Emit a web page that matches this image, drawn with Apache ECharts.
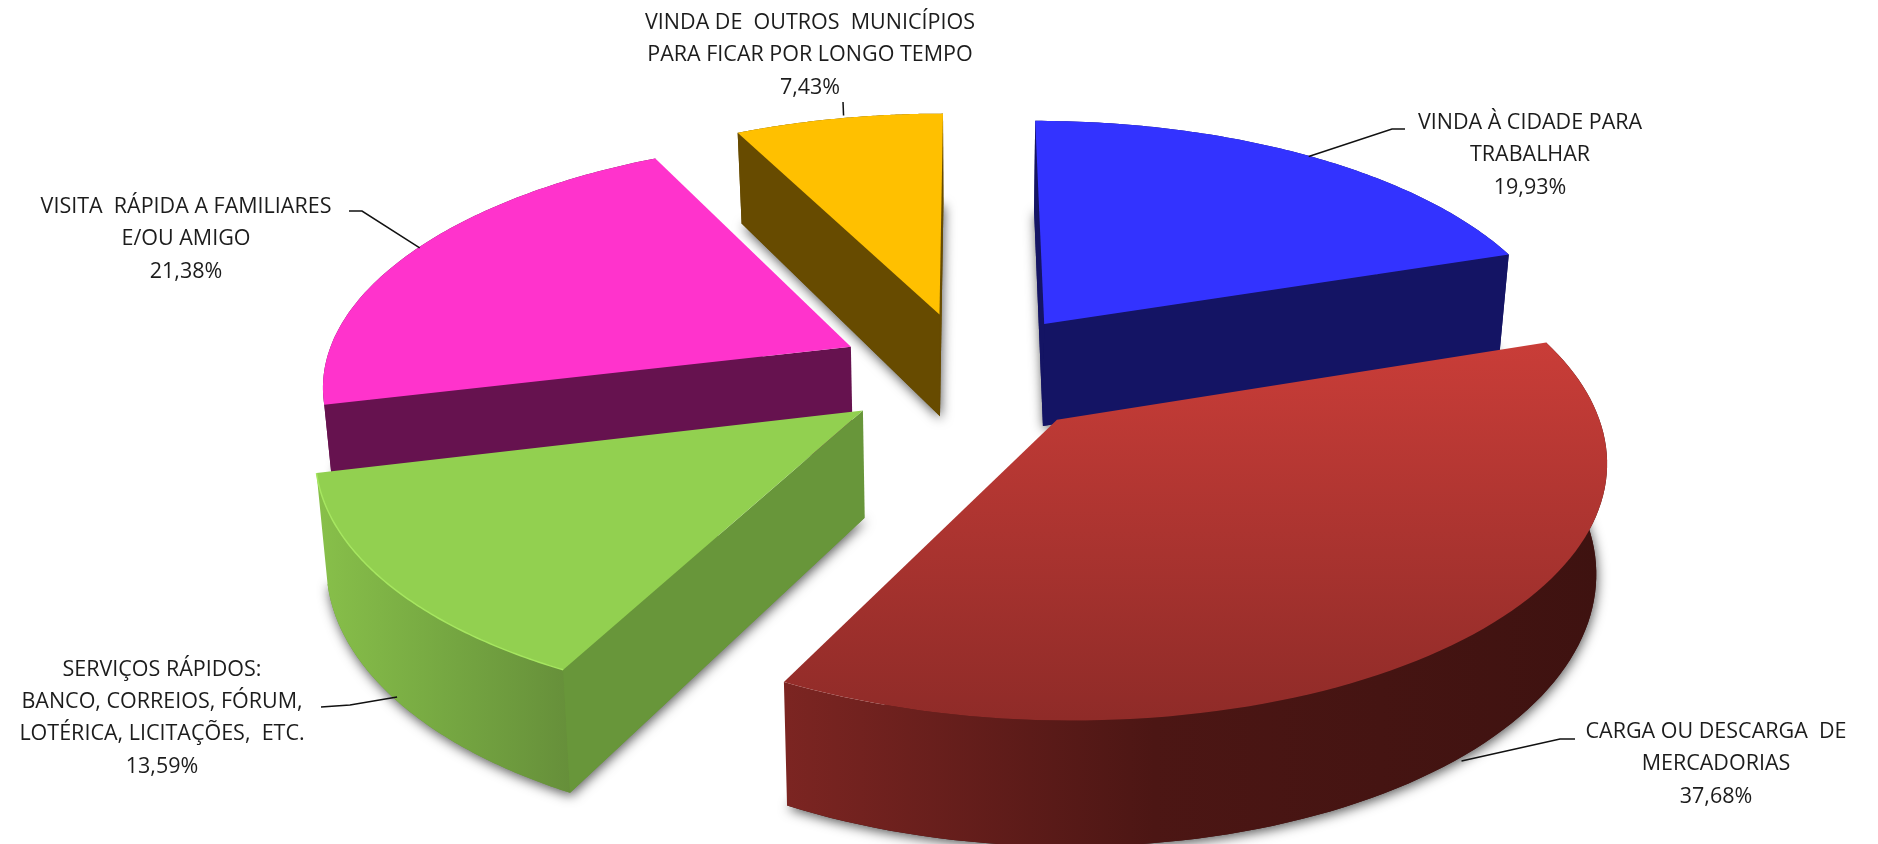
<!DOCTYPE html>
<html><head><meta charset="utf-8">
<style>html,body{margin:0;padding:0;background:#fff}#c{width:1878px;height:844px}</style>
<script src="https://cdn.jsdelivr.net/npm/echarts@6/dist/echarts.min.js"></script>
</head><body><div id="c"></div>
<script>
// ---- data ----
const names = [
  'VINDA À CIDADE PARA\nTRABALHAR',
  'CARGA OU DESCARGA  DE\nMERCADORIAS',
  'SERVIÇOS RÁPIDOS:\nBANCO, CORREIOS, FÓRUM,\nLOTÉRICA, LICITAÇÕES,  ETC.',
  'VISITA  RÁPIDA A FAMILIARES\nE/OU AMIGO',
  'VINDA DE  OUTROS  MUNICÍPIOS\nPARA FICAR POR LONGO TEMPO'
];
const values = [19.93, 37.68, 13.59, 21.38, 7.43];

// ---- presentation ----
const paintOrder = [1, 4, 3, 2, 0];
const topColors = [
  ['#3333FF', '#3333FF'], ['#C93D38', '#8F2B28'], ['#92D050', '#92D050'], ['#FF33CC', '#FF33CC'], ['#FFC000', '#FFC000']
];
const wallColors = [
  [[0, '#141464'], [1, '#141464']],
  [[0, '#7C2522'], [0.45, '#4C1614'], [1, '#3E1210']],
  [[0, '#88C04A'], [0.5, '#76A842'], [1, '#668F3A']],
  [[0, '#66124F'], [1, '#66124F']],
  [[0, '#674B00'], [1, '#674B00']]
];
const radialColors = ['#141464', '#3E1210', '#68963A', '#66124F', '#674B00'];
const labelCentres = [[1530, 155], [1716, 764], [162, 718], [186, 239], [810, 55]];
const leaderStarts = [[[1405, 129], [1392, 129]], [[1575, 739], [1560, 739]], [[321, 707], [350, 705]], [[349, 211], [362, 211]], [[843, 102]]];
const leaderOnBottom = [false, true, true, false, false];
const leaderNudge = [[1, 1], [7, 0], [0, -4], [9, -5], [5, -3]];

// ---- camera of the tilted pie ----
const cam = { x0: 969, y0: 372, ax: 528, ay: 244, k: 0.14, depth: 105, squeeze: 0.017, explode: 0.25 };
const total = values.reduce((a, b) => a + b, 0);
const rad = d => d * Math.PI / 180;
function project(X, Y, z) {
  const w = 1 + cam.k * Y;
  return [cam.x0 + cam.ax * X / w * (1 - cam.squeeze * z), cam.y0 - cam.ay * Y / w + z * cam.depth / w];
}
function sliceAngles(i) {
  let s = 0;
  for (let j = 0; j < i; j++) s += values[j];
  return [s / total * 360, (s + values[i]) / total * 360];
}
function makeFill(stops, horizontal) {
  return new echarts.graphic.LinearGradient(0, 0, horizontal ? 1 : 0, horizontal ? 0 : 1,
    stops.map(s => ({ offset: s[0], color: s[1] })));
}
function renderItem(params, api) {
  const i = params.dataIndex;
  const [a0, a1] = sliceAngles(i);
  const mid = (a0 + a1) / 2;
  const ox = cam.explode * Math.sin(rad(mid)), oy = cam.explode * Math.cos(rad(mid));
  const rimAt = (a, z) => project(ox + Math.sin(rad(a)), oy + Math.cos(rad(a)), z);
  const N = 90;
  const rim = z => { const p = []; for (let n = 0; n <= N; n++) p.push(rimAt(a0 + (a1 - a0) * n / N, z)); return p; };
  const apex = z => project(ox, oy, z);
  const base = paintOrder[i] * 10;
  const poly = (pts, fill, layer, extra) => ({
    type: 'polygon', z2: base + layer, silent: true,
    shape: { points: pts },
    style: Object.assign({ fill: fill, stroke: null }, extra || {})
  });
  const children = [];
  const solid = radialColors[i];
  // soft shadow beneath the slice
  children.push(poly([apex(1)].concat(rim(1)), solid, 0, {
    shadowBlur: 12, shadowColor: 'rgba(0,0,0,0.65)', shadowOffsetX: 1, shadowOffsetY: 3
  }));
  // outer wall
  children.push(poly(rim(0).concat(rim(1).reverse()), makeFill(wallColors[i], true), 1));
  // radial walls, kept only when they turn toward the viewer
  [[a0, -1], [a1, 1]].forEach(([a, sign]) => {
    const A = apex(0), R = rimAt(a, 0), Rb = rimAt(a, 1), Ab = apex(1);
    const cross = (R[0] - A[0]) * (Ab[1] - A[1]) - (R[1] - A[1]) * (Ab[0] - A[0]);
    if (cross * sign > 0) children.push(poly([A, R, Rb, Ab], solid, 2));
  });
  // top face
  children.push(poly([apex(0)].concat(rim(0)), makeFill([[0, topColors[i][0]], [1, topColors[i][1]]], false), 3));
  if (i === 2) {
    children.push({ type: 'polyline', z2: base + 4, silent: true, shape: { points: rim(0) },
      style: { stroke: '#A6E660', lineWidth: 1.5, fill: null } });
  }
  // leader line
  const z = leaderOnBottom[i] ? 1 : 0;
  const end = rimAt(mid, z);
  const pts = leaderStarts[i].concat([[end[0] + leaderNudge[i][0], end[1] + leaderNudge[i][1]]]);
  children.push({ type: 'polyline', z2: 90, silent: true, shape: { points: pts },
    style: { stroke: '#111111', lineWidth: 1.5, fill: null } });
  // label
  const pct = api.value(0).toFixed(2).replace('.', ',') + '%';
  children.push({ type: 'text', z2: 100, silent: true,
    style: { x: labelCentres[i][0], y: labelCentres[i][1], text: names[i] + '\n' + pct,
      align: 'center', verticalAlign: 'middle', textAlign: 'center', textVerticalAlign: 'middle',
      fill: '#1c1c1c', fontFamily: '"Open Sans"', fontSize: 21.5, lineHeight: 32.4 } });
  return { type: 'group', children: children };
}
const chart = echarts.init(document.getElementById('c'), null, { renderer: 'canvas' });
chart.setOption({
  backgroundColor: '#ffffff',
  animation: false,
  series: [{ type: 'custom', coordinateSystem: 'none', silent: true, clip: false,
    data: values.map((v, i) => ({ name: names[i], value: [v] })), renderItem: renderItem }]
});
</script></body></html>
